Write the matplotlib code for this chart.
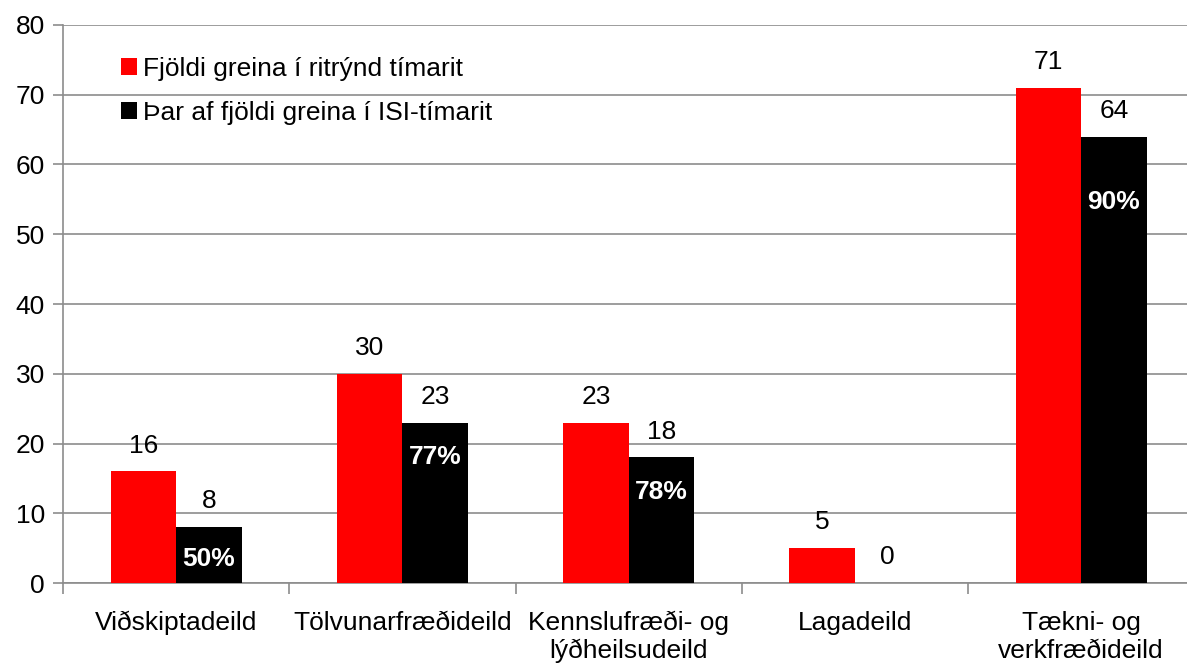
import matplotlib.pyplot as plt
import numpy as np

plt.rcParams['font.family'] = ['Liberation Sans', 'DejaVu Sans']

categories = ["Viðskiptadeild", "Tölvunarfræðideild", "Kennslufræði- og\nlýðheilsudeild",
              "Lagadeild", "Tækni- og\nverkfræðideild"]
peer_reviewed = [16, 30, 23, 5, 71]
isi = [8, 23, 18, 0, 64]
isi_share = ["50%", "77%", "78%", None, "90%"]

label_fontsize = 19
grid_color = "#8c8c8c"

fig = plt.figure(figsize=(11.87, 6.68), dpi=100)
ax = fig.add_axes([0.0531, 0.1272, 0.953, 0.8354])

x = np.arange(len(categories))
width = 0.29
bars_red = ax.bar(x - width / 2, peer_reviewed, width, color="#ff0000",
                  label="Fjöldi greina í ritrýnd tímarit", zorder=3)
bars_black = ax.bar(x + width / 2, isi, width, color="#000000",
                    label="Þar af fjöldi greina í ISI-tímarit", zorder=3)

for bars in (bars_red, bars_black):
    for b in bars:
        h = b.get_height()
        ax.annotate(f"{h:g}", (b.get_x() + b.get_width() / 2, h),
                    xytext=(0, 10), textcoords="offset points",
                    ha="center", va="bottom", fontsize=label_fontsize)

# percentage labels inside the black bars
pct_offsets = [-23, -25, -25, 0, -47]
for b, pct, off in zip(bars_black, isi_share, pct_offsets):
    if pct is None:
        continue
    ax.annotate(pct, (b.get_x() + b.get_width() / 2, b.get_height()),
                xytext=(0, off), textcoords="offset points",
                ha="center", va="center", fontsize=label_fontsize,
                fontweight="bold", color="white", zorder=4)

ax.set_xlim(-0.5, len(categories) - 0.5)
ax.set_ylim(0, 80)
ax.set_yticks(range(0, 81, 10))
ax.yaxis.grid(True, color=grid_color, linewidth=1.2, zorder=0)

ax.set_xticks(x)
ax.set_xticklabels(categories, fontsize=label_fontsize, linespacing=1.2)
ax.set_xticks(np.arange(-0.5, len(categories), 1.0), minor=True)
ax.tick_params(axis="x", which="major", length=0, pad=20)
ax.tick_params(axis="x", which="minor", length=8, width=1.2, color=grid_color)
ax.tick_params(axis="y", length=7, width=1.2, color=grid_color,
               labelsize=label_fontsize, pad=6)

for s in ("top", "right"):
    ax.spines[s].set_visible(False)
for s in ("left", "bottom"):
    ax.spines[s].set_color(grid_color)
    ax.spines[s].set_linewidth(1.2)

ax.legend(loc="upper left", bbox_to_anchor=(0.03, 0.985), frameon=False,
          fontsize=label_fontsize, handlelength=0.6, handleheight=0.6,
          handletextpad=0.25, labelspacing=0.75)

fig.savefig("out.png", dpi=100)
